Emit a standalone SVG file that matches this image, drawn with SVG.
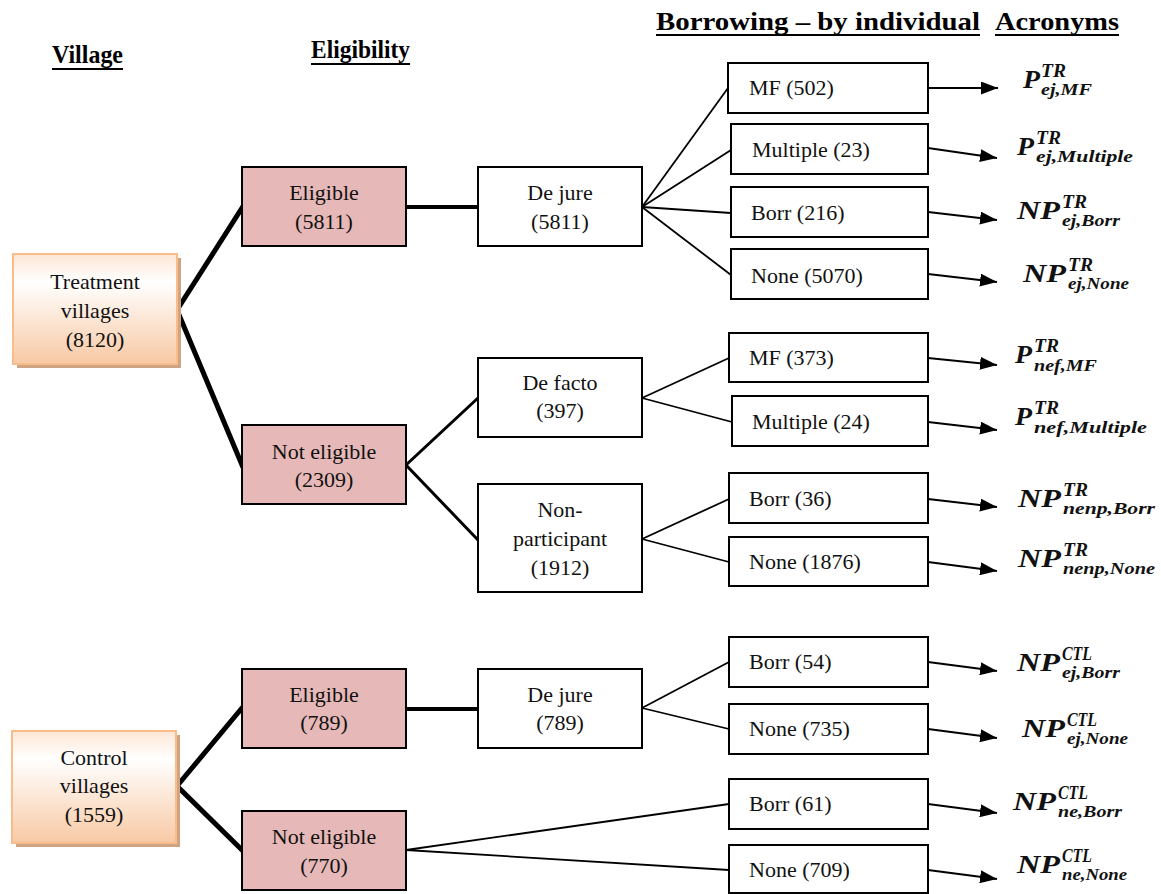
<svg xmlns="http://www.w3.org/2000/svg" width="1161" height="894" viewBox="0 0 1161 894">
<defs>
<linearGradient id="vg" x1="0" y1="0" x2="0" y2="1">
<stop offset="0" stop-color="#fde6d4"/>
<stop offset="0.25" stop-color="#ffffff"/>
<stop offset="1" stop-color="#f8c9a4"/>
</linearGradient>
<marker id="ah" markerUnits="userSpaceOnUse" markerWidth="18" markerHeight="13" refX="17" refY="6.5" orient="auto">
<path d="M0,0 L17,6.5 L0,13 z" fill="#000"/>
</marker>
<style>
.t{font-family:"Liberation Serif","Times New Roman",serif;font-size:22px;fill:#111;}
.c{text-anchor:middle;}
.h{font-family:"Liberation Serif","Times New Roman",serif;font-size:25px;font-weight:bold;fill:#000;}
.ul{stroke:#000;stroke-width:2;}
.vb{fill:url(#vg);stroke:#f8bd8a;stroke-width:2;}
.sh{fill:#cfa483;}
.pk{fill:#e6b8b7;stroke:#000;stroke-width:2;}
.wb{fill:#fff;stroke:#000;stroke-width:2;}
.am{font-family:"Liberation Serif","Times New Roman",serif;font-style:italic;font-weight:bold;font-size:25px;fill:#111;}
.as{font-family:"Liberation Serif","Times New Roman",serif;font-style:italic;font-weight:bold;font-size:18px;fill:#111;}
.ab{font-family:"Liberation Serif","Times New Roman",serif;font-style:italic;font-weight:bold;font-size:16px;fill:#111;}
.k5{stroke:#000;stroke-width:5;fill:none;stroke-linecap:square;}
.k4{stroke:#000;stroke-width:4;fill:none;}
.k3{stroke:#000;stroke-width:3;fill:none;}
.k2{stroke:#000;stroke-width:1.8;fill:none;}
.ar{stroke:#000;stroke-width:2;fill:none;marker-end:url(#ah);}
</style>
</defs>
<rect width="1161" height="894" fill="#fff"/>

<g id="headers">
<text class="h" x="52" y="63" textLength="71" lengthAdjust="spacingAndGlyphs">Village</text>
<line class="ul" x1="52" y1="69" x2="123" y2="69"/>
<text class="h" x="311" y="58" textLength="99" lengthAdjust="spacingAndGlyphs">Eligibility</text>
<line class="ul" x1="311" y1="64" x2="410" y2="64"/>
<text class="h" x="656" y="30" textLength="324" lengthAdjust="spacingAndGlyphs">Borrowing – by individual</text>
<line class="ul" x1="656" y1="35" x2="980" y2="35"/>
<text class="h" x="995" y="30" textLength="124" lengthAdjust="spacingAndGlyphs">Acronyms</text>
<line class="ul" x1="995" y1="35" x2="1119" y2="35"/>
</g>

<g id="connectors">
<polyline class="k5" points="242,208 177,310 242,465"/>
<polyline class="k5" points="242,708 177,786 242,850"/>
<line class="k4" x1="406" y1="207" x2="478" y2="207"/>
<line class="k4" x1="406" y1="709" x2="478" y2="709"/>
<polyline class="k3" points="478,398 406,465 478,540"/>
<polyline class="k2" points="729,804 406,850 729,870"/>
<line class="k2" x1="642" y1="207" x2="728" y2="88"/>
<line class="k2" x1="642" y1="207" x2="731" y2="150"/>
<line class="k2" x1="642" y1="207" x2="731" y2="213"/>
<line class="k2" x1="642" y1="207" x2="731" y2="275"/>
<line class="k2" x1="642" y1="398" x2="729" y2="358"/>
<line class="k2" x1="642" y1="398" x2="732" y2="422"/>
<line class="k2" x1="642" y1="539" x2="729" y2="499"/>
<line class="k2" x1="642" y1="539" x2="729" y2="562"/>
<line class="k2" x1="642" y1="708" x2="729" y2="662"/>
<line class="k2" x1="642" y1="708" x2="729" y2="729"/>
<line class="ar" x1="928" y1="88" x2="998" y2="88"/>
<line class="ar" x1="928" y1="148" x2="997" y2="158"/>
<line class="ar" x1="928" y1="212" x2="997" y2="220"/>
<line class="ar" x1="928" y1="274" x2="997" y2="282"/>
<line class="ar" x1="928" y1="358" x2="997" y2="365"/>
<line class="ar" x1="928" y1="422" x2="997" y2="430"/>
<line class="ar" x1="928" y1="499" x2="997" y2="507"/>
<line class="ar" x1="928" y1="562" x2="997" y2="571"/>
<line class="ar" x1="928" y1="662" x2="997" y2="671"/>
<line class="ar" x1="928" y1="729" x2="997" y2="738"/>
<line class="ar" x1="928" y1="804" x2="997" y2="813"/>
<line class="ar" x1="928" y1="870" x2="997" y2="879"/>
</g>

<g id="treatment">
<rect class="sh" x="17" y="258" width="164" height="110"/>
<rect class="vb" x="13" y="254" width="164" height="110"/>
<text class="t c" x="95" y="289">Treatment</text>
<text class="t c" x="95" y="318">villages</text>
<text class="t c" x="95" y="347">(8120)</text>
</g>
<g id="control">
<rect class="sh" x="16" y="735" width="164" height="112"/>
<rect class="vb" x="12" y="731" width="164" height="112"/>
<text class="t c" x="94" y="765">Control</text>
<text class="t c" x="94" y="793">villages</text>
<text class="t c" x="94" y="822">(1559)</text>
</g>

<g id="tr-eligible">
<rect class="pk" x="242" y="167" width="164" height="79"/>
<text class="t c" x="324" y="200">Eligible</text>
<text class="t c" x="324" y="229">(5811)</text>
</g>
<g id="tr-noteligible">
<rect class="pk" x="242" y="425" width="164" height="79"/>
<text class="t c" x="324" y="459">Not eligible</text>
<text class="t c" x="324" y="487">(2309)</text>
</g>
<g id="ctl-eligible">
<rect class="pk" x="242" y="669" width="164" height="79"/>
<text class="t c" x="324" y="702">Eligible</text>
<text class="t c" x="324" y="730">(789)</text>
</g>
<g id="ctl-noteligible">
<rect class="pk" x="242" y="811" width="164" height="79"/>
<text class="t c" x="324" y="844">Not eligible</text>
<text class="t c" x="324" y="873">(770)</text>
</g>

<g id="tr-dejure">
<rect class="wb" x="478" y="167" width="164" height="79"/>
<text class="t c" x="560" y="200">De jure</text>
<text class="t c" x="560" y="229">(5811)</text>
</g>
<g id="tr-defacto">
<rect class="wb" x="478" y="358" width="164" height="79"/>
<text class="t c" x="560" y="390">De facto</text>
<text class="t c" x="560" y="418">(397)</text>
</g>
<g id="tr-nonpart">
<rect class="wb" x="478" y="484" width="164" height="108"/>
<text class="t c" x="560" y="517">Non-</text>
<text class="t c" x="560" y="546">participant</text>
<text class="t c" x="560" y="575">(1912)</text>
</g>
<g id="ctl-dejure">
<rect class="wb" x="478" y="669" width="164" height="79"/>
<text class="t c" x="560" y="702">De jure</text>
<text class="t c" x="560" y="730">(789)</text>
</g>

<g id="b-mf502"><rect class="wb" x="728" y="63" width="200" height="50"/><text class="t" x="749" y="95">MF (502)</text></g>
<g id="b-mult23"><rect class="wb" x="731" y="124" width="197" height="50"/><text class="t" x="752" y="157">Multiple (23)</text></g>
<g id="b-borr216"><rect class="wb" x="731" y="187" width="197" height="50"/><text class="t" x="751" y="220">Borr (216)</text></g>
<g id="b-none5070"><rect class="wb" x="731" y="249" width="197" height="50"/><text class="t" x="751" y="283">None (5070)</text></g>
<g id="b-mf373"><rect class="wb" x="729" y="333" width="199" height="49"/><text class="t" x="749" y="365">MF (373)</text></g>
<g id="b-mult24"><rect class="wb" x="732" y="396" width="196" height="50"/><text class="t" x="752" y="429">Multiple (24)</text></g>
<g id="b-borr36"><rect class="wb" x="729" y="473" width="199" height="50"/><text class="t" x="749" y="506">Borr (36)</text></g>
<g id="b-none1876"><rect class="wb" x="729" y="537" width="199" height="49"/><text class="t" x="749" y="569">None (1876)</text></g>
<g id="b-borr54"><rect class="wb" x="729" y="637" width="199" height="50"/><text class="t" x="749" y="669">Borr (54)</text></g>
<g id="b-none735"><rect class="wb" x="729" y="704" width="199" height="50"/><text class="t" x="749" y="736">None (735)</text></g>
<g id="b-borr61"><rect class="wb" x="729" y="779" width="199" height="50"/><text class="t" x="749" y="811">Borr (61)</text></g>
<g id="b-none709"><rect class="wb" x="729" y="845" width="199" height="48"/><text class="t" x="749" y="877">None (709)</text></g>

<g id="acronyms">
<g id="a1"><text class="am" x="1023" y="88" textLength="17" lengthAdjust="spacingAndGlyphs">P</text><text class="as" x="1041" y="77" textLength="25" lengthAdjust="spacingAndGlyphs">TR</text><text class="ab" x="1041" y="95" textLength="51" lengthAdjust="spacingAndGlyphs">ej,MF</text></g>
<g id="a2"><text class="am" x="1017" y="155" textLength="17" lengthAdjust="spacingAndGlyphs">P</text><text class="as" x="1036" y="144" textLength="25" lengthAdjust="spacingAndGlyphs">TR</text><text class="ab" x="1036" y="162" textLength="97" lengthAdjust="spacingAndGlyphs">ej,Multiple</text></g>
<g id="a3"><text class="am" x="1017" y="219" textLength="43" lengthAdjust="spacingAndGlyphs">NP</text><text class="as" x="1062" y="208" textLength="25" lengthAdjust="spacingAndGlyphs">TR</text><text class="ab" x="1062" y="226" textLength="58" lengthAdjust="spacingAndGlyphs">ej,Borr</text></g>
<g id="a4"><text class="am" x="1023" y="282" textLength="43" lengthAdjust="spacingAndGlyphs">NP</text><text class="as" x="1068" y="271" textLength="25" lengthAdjust="spacingAndGlyphs">TR</text><text class="ab" x="1068" y="289" textLength="61" lengthAdjust="spacingAndGlyphs">ej,None</text></g>
<g id="a5"><text class="am" x="1015" y="363" textLength="17" lengthAdjust="spacingAndGlyphs">P</text><text class="as" x="1034" y="352" textLength="25" lengthAdjust="spacingAndGlyphs">TR</text><text class="ab" x="1034" y="371" textLength="63" lengthAdjust="spacingAndGlyphs">nef,MF</text></g>
<g id="a6"><text class="am" x="1015" y="425" textLength="17" lengthAdjust="spacingAndGlyphs">P</text><text class="as" x="1034" y="414" textLength="25" lengthAdjust="spacingAndGlyphs">TR</text><text class="ab" x="1034" y="433" textLength="113" lengthAdjust="spacingAndGlyphs">nef,Multiple</text></g>
<g id="a7"><text class="am" x="1018" y="507" textLength="43" lengthAdjust="spacingAndGlyphs">NP</text><text class="as" x="1063" y="496" textLength="25" lengthAdjust="spacingAndGlyphs">TR</text><text class="ab" x="1063" y="514" textLength="92" lengthAdjust="spacingAndGlyphs">nenp,Borr</text></g>
<g id="a8"><text class="am" x="1018" y="567" textLength="43" lengthAdjust="spacingAndGlyphs">NP</text><text class="as" x="1063" y="556" textLength="25" lengthAdjust="spacingAndGlyphs">TR</text><text class="ab" x="1063" y="574" textLength="92" lengthAdjust="spacingAndGlyphs">nenp,None</text></g>
<g id="a9"><text class="am" x="1017" y="671" textLength="43" lengthAdjust="spacingAndGlyphs">NP</text><text class="as" x="1062" y="660" textLength="30" lengthAdjust="spacingAndGlyphs">CTL</text><text class="ab" x="1062" y="678" textLength="58" lengthAdjust="spacingAndGlyphs">ej,Borr</text></g>
<g id="a10"><text class="am" x="1022" y="737" textLength="43" lengthAdjust="spacingAndGlyphs">NP</text><text class="as" x="1067" y="726" textLength="30" lengthAdjust="spacingAndGlyphs">CTL</text><text class="ab" x="1067" y="744" textLength="61" lengthAdjust="spacingAndGlyphs">ej,None</text></g>
<g id="a11"><text class="am" x="1013" y="810" textLength="43" lengthAdjust="spacingAndGlyphs">NP</text><text class="as" x="1058" y="799" textLength="30" lengthAdjust="spacingAndGlyphs">CTL</text><text class="ab" x="1058" y="817" textLength="64" lengthAdjust="spacingAndGlyphs">ne,Borr</text></g>
<g id="a12"><text class="am" x="1017" y="873" textLength="43" lengthAdjust="spacingAndGlyphs">NP</text><text class="as" x="1062" y="862" textLength="30" lengthAdjust="spacingAndGlyphs">CTL</text><text class="ab" x="1062" y="880" textLength="65" lengthAdjust="spacingAndGlyphs">ne,None</text></g>
</g>
</svg>
